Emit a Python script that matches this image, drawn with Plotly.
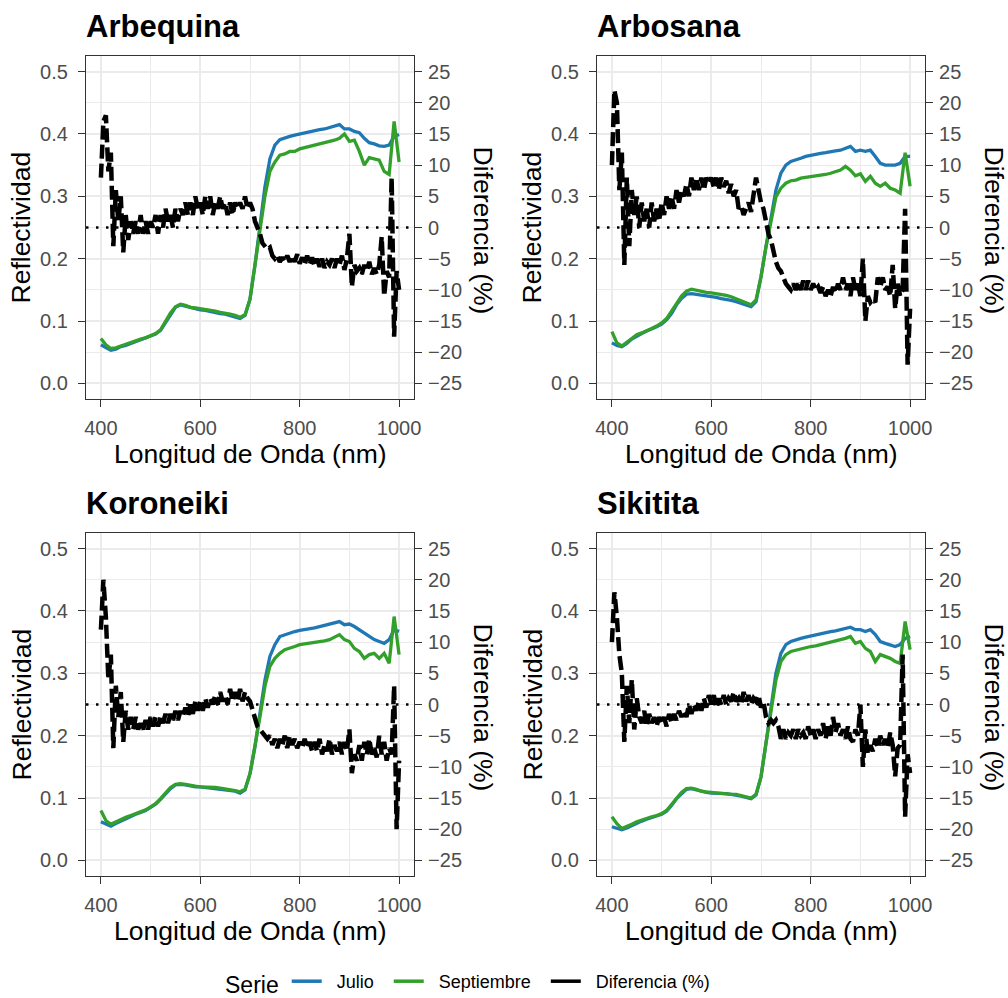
import plotly.graph_objects as go

# ---------------- data ----------------
varieties = ["Arbequina", "Arbosana", "Koroneiki", "Sikitita"]
series_names = ["Julio", "Septiembre", "Diferencia (%)"]
colors = {"Julio": "#1F78B4", "Septiembre": "#33A02C", "Diferencia (%)": "#000000"}

wl_refl = list(range(400, 1001, 10))   # nm
wl_diff = list(range(400, 1001, 5))    # nm

arbequina_julio = [
    .062, .057, .053, .055, .059, .061, .064, .067, .070, .072, .075, .079, .085, .097, .111, .122, .126, .124, .121, .120, .118,
    .117, .115, .114, .112, .111, .109, .107, .104, .109, .135, .190, .250, .315, .360, .382, .391, .394, .396, .398, .400,
    .402, .404, .405, .407, .408, .410, .412, .415, .408, .408, .404, .402, .393, .386, .384, .381, .380, .382, .396, .399]
arbequina_sept = [
    .072, .062, .056, .057, .060, .063, .066, .068, .071, .073, .076, .080, .086, .099, .113, .123, .127, .125, .122, .121, .120,
    .119, .117, .116, .114, .113, .111, .109, .106, .110, .135, .190, .245, .300, .340, .355, .366, .368, .372, .372, .376,
    .378, .380, .382, .383, .385, .387, .390, .393, .400, .388, .390, .372, .350, .362, .360, .358, .340, .335, .420, .355]
arbequina_diff = [
    8, 17, 18, 9, 12, -3, 6, 1, 5, -4, 2, -2, 1, -1, 1, -1, 2, -1, 1, -1,
    1, 0, 2, -1, 2, 0, 3, 1, 2, 0, 3, 1, 3, 2, 4, 2, 4, 2, 5, 3,
    4, 2, 5, 3, 5, 2, 4, 3, 5, 3, 4, 2, 4, 2, 4, 3, 4, 3, 5, 3,
    4, 3, 1, 0, -1, -2.5, -3, -3.5, -3.2, -4.5, -5, -4.5, -5.5, -4.8, -5.5, -4.5, -5.5, -4.5, -5.5, -4.3,
    -5.8, -4.8, -6, -4.5, -6, -4.8, -6.2, -5, -6.3, -5, -6.5, -5.5, -6, -5, -6.5, -5, -6, -4.5, -6.8, -5,
    -1, -9.5, -6, -7, -6.5, -7.5, -6, -7, -5.5, -7.5, -6.5, -7.5, -6, -1.5, -11, -7, -8, 8, -17.5, -7,
    -10]

arbosana_julio = [
    .065, .061, .059, .064, .071, .076, .080, .084, .087, .091, .095, .102, .112, .126, .136, .143, .144, .143, .142, .140, .139,
    .138, .136, .135, .133, .131, .128, .126, .123, .131, .171, .219, .267, .310, .337, .350, .356, .358, .361, .364, .366,
    .367, .369, .370, .372, .373, .374, .377, .380, .372, .374, .372, .374, .364, .353, .350, .350, .350, .353, .364, .364]
arbosana_sept = [
    .083, .065, .060, .066, .072, .078, .081, .084, .088, .092, .097, .104, .115, .128, .140, .148, .151, .149, .147, .146, .145,
    .144, .143, .141, .139, .136, .133, .130, .126, .134, .171, .219, .262, .299, .313, .321, .325, .326, .329, .330, .332,
    .333, .334, .335, .337, .339, .342, .348, .342, .333, .336, .324, .332, .321, .316, .321, .313, .310, .305, .370, .316]
arbosana_diff = [
    10, 22, 20, 6, 12, -6, 8, -3, 6, 2, 5, 0, 4, 1, 3, 0, 4, 1, 3, 1,
    4, 2, 5, 3, 5, 3, 6, 4, 6, 5, 7, 5, 8, 6, 8, 6, 8, 6, 8, 7,
    8, 6.5, 8, 6, 8, 6.5, 7.5, 5.5, 7, 5, 6, 3, 3.5, 2, 3, 4, 2.5, 5, 8, 6,
    4, 3, 1, -1, -2, -4, -5.5, -6.5, -7, -8, -9, -9.5, -10, -9, -10, -9, -10, -8.5, -10, -8.5,
    -10, -9, -10, -9.5, -10.5, -9.5, -11, -10, -11, -9.5, -10.5, -9, -10, -8, -10, -9, -11, -8, -10, -9,
    -11, -5, -15, -11, -12, -11.5, -12, -8, -9.5, -8, -10, -9.5, -11, -6, -13, -9, -11, -10, 3, -22,
    -13]

koroneiki_julio = [
    .062, .059, .055, .059, .063, .067, .071, .074, .077, .080, .085, .090, .098, .107, .115, .121, .122, .121, .119, .118, .118,
    .117, .117, .116, .115, .114, .113, .111, .108, .113, .139, .182, .236, .289, .327, .346, .359, .362, .364, .367, .369,
    .370, .372, .373, .375, .377, .379, .381, .383, .378, .379, .375, .370, .364, .359, .354, .351, .348, .354, .370, .367]
koroneiki_sept = [
    .080, .064, .058, .062, .065, .069, .072, .075, .078, .081, .086, .091, .099, .109, .117, .122, .123, .122, .120, .119, .118,
    .118, .117, .117, .116, .115, .114, .112, .110, .114, .139, .182, .230, .279, .311, .324, .332, .338, .340, .343, .346,
    .347, .348, .349, .351, .352, .354, .358, .362, .354, .351, .340, .335, .324, .330, .332, .324, .332, .316, .391, .330]
koroneiki_diff = [
    12, 20, 14, 4, 8, -7, 3, -2, 2, -6, -1, -4, -2, -4, -2, -4, -3, -4, -2.5, -4,
    -2, -3.5, -2, -3.5, -2, -3, -1.5, -3, -1.5, -2.5, -1, -2.5, -1, -2, -0.5, -2, 0, -1.5, 0.5, -1,
    0.5, -1, 1, -0.5, 1, 0, 1.5, 0, 2, 0.5, 1.5, 0, 2.5, 0.5, 2, 0.5, 2.5, 0.5, 2, 1,
    0.5, -1, -2, -3.5, -4, -4.5, -5, -5.5, -5, -6.5, -5.5, -7, -5.5, -6.5, -5, -7, -5, -6.5, -5.5, -7,
    -6, -7, -5.5, -7, -6, -7.5, -6, -7.5, -5.5, -8, -6.5, -7.5, -5.5, -8, -6.5, -7.5, -6, -8, -6, -7.5,
    -4, -11, -8, -9, -6.5, -9, -6, -8, -5.5, -8, -7, -8.5, -5, -8, -6, -9, -7, -8, 3, -20,
    -9]

sikitita_julio = [
    .054, .052, .049, .052, .056, .060, .063, .066, .069, .071, .074, .079, .088, .099, .107, .114, .115, .113, .110, .109, .108,
    .108, .107, .107, .106, .105, .103, .101, .099, .105, .134, .188, .247, .300, .332, .346, .351, .354, .356, .358, .360,
    .361, .363, .365, .367, .368, .370, .372, .374, .370, .370, .367, .370, .362, .351, .348, .346, .343, .346, .356, .359]
sikitita_sept = [
    .070, .059, .051, .054, .058, .062, .065, .067, .070, .072, .075, .080, .090, .101, .109, .115, .116, .114, .111, .110, .109,
    .109, .108, .107, .106, .106, .104, .103, .100, .106, .134, .188, .241, .289, .319, .330, .335, .337, .339, .342, .343,
    .344, .346, .347, .349, .351, .353, .356, .359, .348, .351, .340, .335, .319, .330, .327, .324, .319, .316, .383, .338]
sikitita_diff = [
    10, 18, 14, 8, 5, -6, 3, -3, 4, -4, 1, -2, -3, -1, -3.5, -1.5, -3, -2, -3.5, -2,
    -3, -2, -3.5, -1.5, -3, -1.5, -2.5, -1, -2, -1, -2, 0, -1.5, 0, -1, 0.5, -1, 1, -0.5, 1.5,
    0, 1.5, -0.5, 1, 0, 1.5, 0, 1, 0.5, 2, 0.5, 1, 0, 2, 0.5, 1.5, 0, 1, 0.5, 1.5,
    -0.5, 0.5, -2, -3, -2.5, -3, -2.5, -3.5, -5.5, -4, -5.5, -4.5, -5, -4, -5.5, -4, -5, -4.5, -5.5, -3.5,
    -5, -4, -5.5, -4, -5, -3, -5.5, -3.5, -5, -2, -4.5, -3, -5, -4, -5.5, -3.5, -5.5, -6, -4, -5,
    0, -10, -4, -8, -6.5, -7.5, -5.5, -7, -5, -6.5, -5.5, -7, -4.5, -6.5, -11.5, -7, -6.5, 8, -18, -8,
    -11]

julio = [arbequina_julio, arbosana_julio, koroneiki_julio, sikitita_julio]
septiembre = [arbequina_sept, arbosana_sept, koroneiki_sept, sikitita_sept]
diferencia = [arbequina_diff, arbosana_diff, koroneiki_diff, sikitita_diff]

refl_ticks = [0.0, 0.1, 0.2, 0.3, 0.4, 0.5]
refl_minor = [0.05, 0.15, 0.25, 0.35, 0.45]
diff_ticks = [-25, -20, -15, -10, -5, 0, 5, 10, 15, 20, 25]
wl_ticks = [400, 600, 800, 1000]
wl_minor = [500, 700, 900]

# ---------------- layout geometry (pixels) ----------------
W, H = 1008, 998
col_x = [(86, 414), (597, 925)]
row_y = [(56, 399), (533, 876)]

def px(x):
    return x / W

def py(y):
    return 1 - y / H

fig = go.Figure()

FONT = "Liberation Sans, Arial, sans-serif"
GRID = "#EBEBEB"
DARK = "#333333"
TICKC = "#4D4D4D"
AXTITLE = 26.5
NB = "\u00a0"

layout = dict(
    width=W, height=H,
    margin=dict(l=0, r=0, t=0, b=0, autoexpand=False),
    paper_bgcolor="white", plot_bgcolor="white",
    font=dict(family=FONT, color="black"),
    showlegend=True,
    legend=dict(orientation="h", x=px(474), xanchor="center",
                yref="container", y=py(983), yanchor="middle",
                title=dict(text="Serie", font=dict(size=23, color="black"), side="left"),
                font=dict(size=18, color="black"), tracegroupgap=0,
                bgcolor="rgba(0,0,0,0)"),
)
annotations = []
shapes = []

# legend entries (solid keys, as in the reference legend)
for s in series_names:
    fig.add_trace(go.Scatter(x=[None], y=[None], mode="lines", name=NB * 2 + s + NB * 2,
                             legendgroup=s, line=dict(color=colors[s], width=3.5),
                             showlegend=True, hoverinfo="skip"))

for i, name in enumerate(varieties):
    r, c = divmod(i, 2)
    x0, x1 = col_x[c]
    y0, y1 = row_y[r]
    n = i + 1
    xa = f"x{n}" if n > 1 else "x"
    ya = f"y{n}" if n > 1 else "y"
    ya2 = f"y{n + 4}"

    common_ax = dict(showline=True, linecolor=DARK, linewidth=1.2, ticks="outside",
                     ticklen=7, tickcolor=DARK, tickwidth=1.2,
                     tickfont=dict(size=20, color=TICKC, family=FONT), zeroline=False)

    layout[f"xaxis{n}"] = dict(
        domain=[px(x0), px(x1)], anchor=ya, range=[370, 1030],
        tickvals=wl_ticks, showgrid=True, gridcolor=GRID, gridwidth=1.6,
        minor=dict(tickvals=wl_minor, showgrid=True, gridcolor=GRID, gridwidth=0.8),
        mirror=True, ticklabelstandoff=4, **common_ax)
    layout[f"yaxis{n}"] = dict(
        domain=[py(y1), py(y0)], anchor=xa, range=[-0.025, 0.525],
        tickvals=refl_ticks, ticktext=[f"{v:.1f}" for v in refl_ticks],
        showgrid=True, gridcolor=GRID, gridwidth=1.6,
        minor=dict(tickvals=refl_minor, showgrid=True, gridcolor=GRID, gridwidth=0.8),
        mirror=True, ticklabelstandoff=6, **common_ax)
    layout[f"yaxis{n + 4}"] = dict(
        overlaying=ya, anchor=xa, side="right", range=[-27.5, 27.5],
        tickvals=diff_ticks, showgrid=False, ticklabelstandoff=2, **common_ax)

    # zero reference (dotted)
    shapes.append(dict(type="line", xref=f"{xa} domain", yref=ya2, x0=0, x1=1, y0=0, y1=0,
                       line=dict(color="black", width=2.4, dash="2.5px,7.5px"), layer="above"))

    fig.add_trace(go.Scatter(x=wl_diff, y=diferencia[i], mode="lines", name=series_names[2],
                             legendgroup=series_names[2], showlegend=False,
                             line=dict(color=colors[series_names[2]], width=4.5, dash="14px,5px"),
                             xaxis=xa, yaxis=ya2))
    fig.add_trace(go.Scatter(x=wl_refl, y=julio[i], mode="lines", name=series_names[0],
                             legendgroup=series_names[0], showlegend=False,
                             line=dict(color=colors[series_names[0]], width=3.3),
                             xaxis=xa, yaxis=ya))
    fig.add_trace(go.Scatter(x=wl_refl, y=septiembre[i], mode="lines", name=series_names[1],
                             legendgroup=series_names[1], showlegend=False,
                             line=dict(color=colors[series_names[1]], width=3.3),
                             xaxis=xa, yaxis=ya))

    # titles
    annotations.append(dict(text=f"<b>{name}</b>", x=px(x0 - 2), y=py(y0 - 30), xref="paper", yref="paper",
                            xanchor="left", yanchor="middle", showarrow=False,
                            font=dict(size=31, color="black", family=FONT)))
    annotations.append(dict(text="Longitud de Onda (nm)", x=px((x0 + x1) / 2), y=py(y1 + 55),
                            xref="paper", yref="paper", xanchor="center", yanchor="middle",
                            showarrow=False, font=dict(size=AXTITLE, color="black", family=FONT)))
    annotations.append(dict(text="Reflectividad", x=px(x0 - 65), y=py((y0 + y1) / 2),
                            xref="paper", yref="paper", xanchor="center", yanchor="middle",
                            textangle=-90, showarrow=False, font=dict(size=AXTITLE, color="black", family=FONT)))
    annotations.append(dict(text="Diferencia (%)", x=px(x1 + 69), y=py((y0 + y1) / 2 + 3),
                            xref="paper", yref="paper", xanchor="center", yanchor="middle",
                            textangle=90, showarrow=False, font=dict(size=AXTITLE, color="black", family=FONT)))

layout["annotations"] = annotations
layout["shapes"] = shapes
fig.update_layout(**layout)
fig.write_html("out.html", config={"displayModeBar": False},
               post_script="document.body.style.margin='0px';document.body.style.overflow='hidden';")
